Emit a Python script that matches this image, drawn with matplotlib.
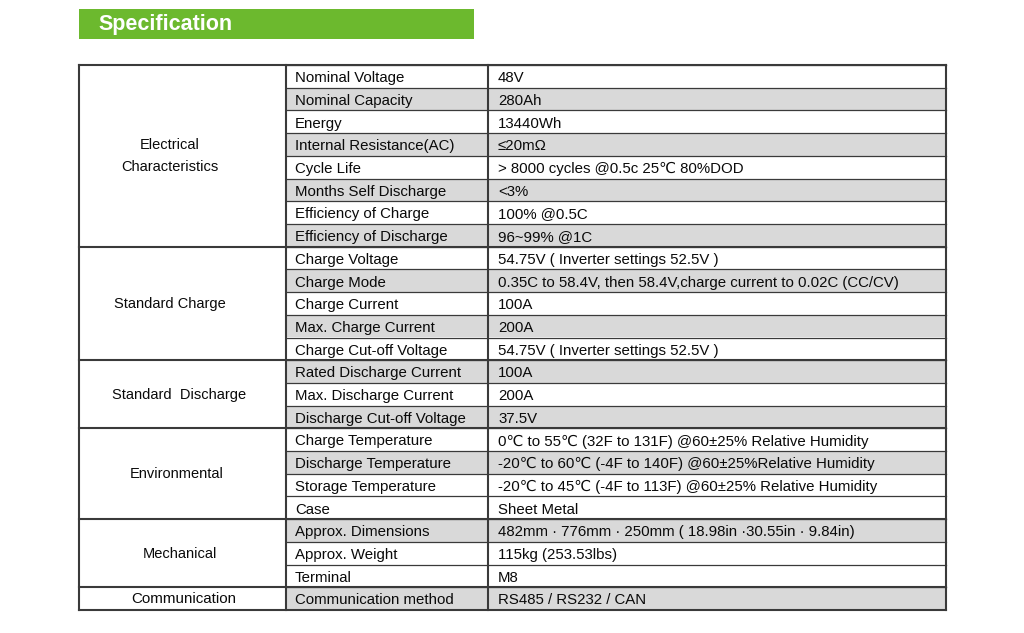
import matplotlib
matplotlib.use('Agg')
import matplotlib.pyplot as plt
from matplotlib.patches import Rectangle

plt.rcParams['font.family'] = ['Liberation Sans', 'DejaVu Sans']

# 表格数据
groups = ['Electrical\nCharacteristics', 'Standard Charge', 'Standard  Discharge',
          'Environmental', 'Mechanical', 'Communication']
group_rows = [8, 5, 3, 4, 3, 1]
items = ['Nominal Voltage', 'Nominal Capacity', 'Energy', 'Internal Resistance(AC)',
         'Cycle Life', 'Months Self Discharge', 'Efficiency of Charge', 'Efficiency of Discharge',
         'Charge Voltage', 'Charge Mode', 'Charge Current', 'Max. Charge Current',
         'Charge Cut-off Voltage',
         'Rated Discharge Current', 'Max. Discharge Current', 'Discharge Cut-off Voltage',
         'Charge Temperature', 'Discharge Temperature', 'Storage Temperature', 'Case',
         'Approx. Dimensions', 'Approx. Weight', 'Terminal',
         'Communication method']
values = ['48V', '280Ah', '13440Wh', '≤20mΩ', '> 8000 cycles @0.5c 25℃ 80%DOD', '<3%',
          '100% @0.5C', '96~99% @1C',
          '54.75V ( Inverter settings 52.5V )',
          '0.35C to 58.4V, then 58.4V,charge current to 0.02C (CC/CV)',
          '100A', '200A', '54.75V ( Inverter settings 52.5V )',
          '100A', '200A', '37.5V',
          '0℃ to 55℃ (32F to 131F) @60±25% Relative Humidity',
          '-20℃ to 60℃ (-4F to 140F) @60±25%Relative Humidity',
          '-20℃ to 45℃ (-4F to 113F) @60±25% Relative Humidity',
          'Sheet Metal',
          '482mm · 776mm · 250mm ( 18.98in ·30.55in · 9.84in)',
          '115kg (253.53lbs)', 'M8',
          'RS485 / RS232 / CAN']
shaded = [1, 3, 5, 7, 9, 11, 13, 15, 17, 20, 23]

# 布局 (像素)
W, H = 1024, 633
x0, x1, x2, x3 = 79, 286, 488, 946
top, bottom = 65, 610
rh = (bottom - top) / len(items)
group_cx = [170, 170, 179, 177, 180, 184]
line_c = '#3a3a3a'
grey = '#d9d9d9'
txt_c = '#0a0a0a'

fig = plt.figure(figsize=(W / 100, H / 100), dpi=100)
ax = fig.add_axes([0, 0, 1, 1])
ax.set_xlim(0, W)
ax.set_ylim(H, 0)
ax.axis('off')

# 标题栏
ax.add_patch(Rectangle((79, 9), 395, 30, facecolor='#6cb92e', edgecolor='none'))
ax.text(98, 24.5, 'Specification', color='white', fontsize=15.5, fontweight='bold',
        va='center', ha='left')

# 行
for i, (item, val) in enumerate(zip(items, values)):
    y = top + i * rh
    if i in shaded:
        ax.add_patch(Rectangle((x1, y), x3 - x1, rh, facecolor=grey, edgecolor='none'))
    ax.plot([x1, x3], [y, y], color=line_c, lw=0.9)
    ax.text(x1 + 9, y + rh / 2 + 1.8, item, fontsize=10.8, va='center', ha='left', color=txt_c)
    ax.text(x2 + 10, y + rh / 2 + 1.8, val, fontsize=10.8, va='center', ha='left', color=txt_c)

# 分组
start = 0
for g, n, cx in zip(groups, group_rows, group_cx):
    y = top + start * rh
    ax.plot([x0, x3], [y, y], color=line_c, lw=1.5)
    fs = 10.9 if g == 'Communication' else 10.5
    ax.text(cx, y + n * rh / 2 + 0.5, g, fontsize=fs, va='center', ha='center',
            linespacing=1.75, color=txt_c)
    start += n
ax.plot([x0, x3], [bottom, bottom], color=line_c, lw=1.5)

# 竖线
for x in (x0, x1, x2, x3):
    ax.plot([x, x], [top, bottom], color=line_c, lw=1.5)

fig.savefig('out.png', dpi=100, facecolor='white')
